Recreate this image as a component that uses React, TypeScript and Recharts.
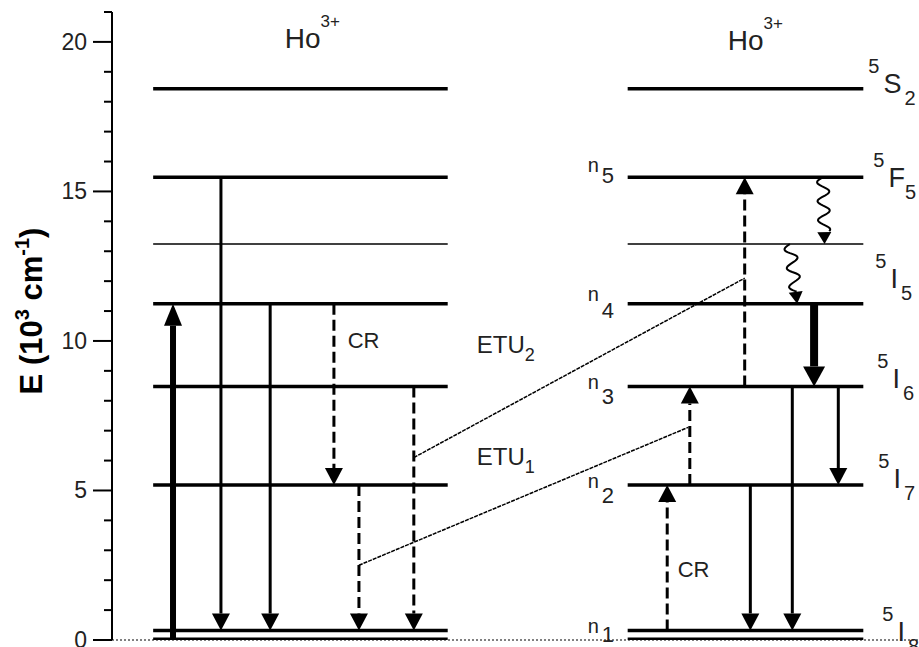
import React from 'react'
import { ComposedChart, Line, XAxis, YAxis, ReferenceLine, ReferenceDot } from 'recharts'

// energy levels of Ho3+ (10^3 cm^-1), ground first
const levelTerms = ['5I8', '5I7', '5I6', '5I5', '', '5F5', '5S2']
const levelE = [0.32, 5.18, 8.48, 11.24, 13.24, 15.47, 18.43]
const levelN = ['1', '2', '3', '4', '', '5', '']
const groundBaseE = 0.04

// the two ion columns (schematic x units 0..100)
const columnStart = [5.1, 63.9]
const columnEnd = [41.6, 93.1]
const columnTitleX = [21.4, 76.3]

const yTicks = [0, 1, 2, 3, 4, 5, 6, 7, 8, 9, 10, 11, 12, 13, 14, 15, 16, 17, 18, 19, 20, 21]

// transitions: x position, from level index, to level index
const solidX = [13.5, 19.6, 79.1, 84.3, 90.0]
const solidFrom = [5, 3, 1, 2, 2]
const solidTo = [0, 0, 0, 0, 1]

const dashX = [27.5, 30.6, 37.4, 68.8, 71.6, 78.4]
const dashFrom = [3, 1, 2, 0, 1, 2]
const dashTo = [1, 0, 0, 1, 2, 5]

const strongX = [7.56, 87.0]
const strongFromE = [0, 11.24]
const strongTo = [3, 2]

const wavyX = [88.1, 84.0]
const wavyXEnd = [88.3, 84.9]
const wavyFrom = [5, 4]
const wavyTo = [4, 3]

// energy transfer upconversion links
const etuNames = ['1', '2']
const etuX1 = [30.6, 37.4]
const etuE1 = [2.5, 6.1]
const etuX2 = [71.4, 78.4]
const etuE2 = [7.11, 12.1]
const etuLabelX = [45.2, 45.2]
const etuLabelE = [5.85, 9.6]

const crLabelX = [29.2, 70.1]
const crLabelE = [9.77, 2.1]

const FONT = '"Liberation Sans", Arial, sans-serif'
const INK = '#222'

// label nudges in px
const termNudge = [[19, 11], [15, 3], [14, 2], [12, -16], [0, 0], [10, 10], [5, 4]]
const nNudge = [[3, 9], [3, 15], [3, 15], [-3, 17], [0, 0], [-5, 11], [0, 0]]

function arrowShape(width: number, head: [number, number], dash?: string, wavy?: boolean) {
  return (p: any) => {
    const { x1, y1, x2, y2 } = p
    const dx = x2 - x1
    const dy = y2 - y1
    const len = Math.hypot(dx, dy) || 1
    const ux = dx / len
    const uy = dy / len
    const nx = -uy
    const ny = ux
    const [hw, hl] = head
    const bx = x2 - ux * hl
    const by = y2 - uy * hl
    let shaft
    if (wavy) {
      const L = len - hl
      const pts: string[] = []
      for (let s = 0; s <= L; s += 1) {
        const off = 6 * Math.sin((2 * Math.PI * s) / 19)
        pts.push(`${x1 + ux * s + nx * off},${y1 + uy * s + ny * off}`)
      }
      shaft = <polyline points={pts.join(' ')} fill="none" stroke="#000" strokeWidth={width} />
    } else {
      shaft = <line x1={x1} y1={y1} x2={bx} y2={by} stroke="#000" strokeWidth={width} strokeDasharray={dash} />
    }
    return (
      <g>
        {shaft}
        <polygon
          points={`${x2},${y2} ${bx + (nx * hw) / 2},${by + (ny * hw) / 2} ${bx - (nx * hw) / 2},${by - (ny * hw) / 2}`}
          fill="#000"
        />
      </g>
    )
  }
}

const YTick = (p: any) => {
  const { x, y, payload } = p
  const major = payload.value % 5 === 0
  return (
    <g>
      <line x1={x - (major ? 19 : 8)} x2={x} y1={y} y2={y} stroke="#000" strokeWidth={2} />
      {major && (
        <text x={x - 25} y={y + 8} textAnchor="end" fontSize={23} fontFamily={FONT} fill={INK}>
          {payload.value}
        </text>
      )}
    </g>
  )
}

const YLabel = () => (
  <text transform="translate(42,311) rotate(-90)" textAnchor="middle" fontSize={31} fontWeight="bold" fontFamily={FONT} fill="#000">
    E (10<tspan fontSize={20} dy={-13}>3</tspan>
    <tspan dy={13}> cm</tspan>
    <tspan fontSize={20} dy={-13}>-1</tspan>
    <tspan dy={13}>)</tspan>
  </text>
)

const flat = (key: string, x1: number, x2: number, e: number, w: number) => (
  <Line
    key={key}
    data={[{ x: x1, e }, { x: x2, e }]}
    dataKey="e"
    stroke="#000"
    strokeWidth={w}
    dot={false}
    activeDot={false}
    isAnimationActive={false}
  />
)

export default function App() {
  const levels: React.ReactNode[] = []
  columnStart.forEach((xs, c) => {
    levelE.forEach((e, i) => {
      levels.push(flat(`lv${c}-${i}`, xs, columnEnd[c], e, i === 4 ? 1.5 : 3.5))
    })
    levels.push(flat(`gnd${c}`, xs, columnEnd[c], groundBaseE, 2.4))
  })

  return (
    <div style={{ position: 'absolute', left: 0, top: 0, background: '#fff' }}>
      <ComposedChart width={919} height={647} margin={{ top: 12, right: 0, bottom: 7, left: 0 }}>
        <XAxis type="number" dataKey="x" domain={[0, 100]} hide />
        <YAxis
          type="number"
          domain={[0, 21]}
          ticks={yTicks}
          interval={0}
          width={112}
          tickSize={0}
          tickMargin={0}
          tickLine={false}
          axisLine={{ stroke: '#000', strokeWidth: 2 }}
          tick={YTick}
          label={{ content: YLabel }}
        />

        <ReferenceLine segment={[{ x: 0, y: 0 }, { x: 100, y: 0 }]} stroke="#000" strokeWidth={1} strokeDasharray="2 2" />
        {levels}

        {solidX.map((x, i) => (
          <ReferenceLine
            key={`s${i}`}
            segment={[{ x, y: levelE[solidFrom[i]] }, { x, y: levelE[solidTo[i]] }]}
            shape={arrowShape(3, [18, 17])}
          />
        ))}
        {dashX.map((x, i) => (
          <ReferenceLine
            key={`d${i}`}
            segment={[{ x, y: levelE[dashFrom[i]] }, { x, y: levelE[dashTo[i]] }]}
            shape={arrowShape(3, [18, 17], '11 5')}
          />
        ))}
        {strongX.map((x, i) => (
          <ReferenceLine
            key={`t${i}`}
            segment={[{ x, y: strongFromE[i] }, { x, y: levelE[strongTo[i]] }]}
            shape={arrowShape(i === 0 ? 6 : 8, i === 0 ? [18, 22] : [22, 20])}
          />
        ))}
        {wavyX.map((x, i) => (
          <ReferenceLine
            key={`w${i}`}
            segment={[{ x, y: levelE[wavyFrom[i]] }, { x: wavyXEnd[i], y: levelE[wavyTo[i]] }]}
            shape={arrowShape(2, [14, 12], undefined, true)}
          />
        ))}
        {etuX1.map((x, i) => (
          <ReferenceLine
            key={`e${i}`}
            segment={[{ x, y: etuE1[i] }, { x: etuX2[i], y: etuE2[i] }]}
            stroke="#000"
            strokeWidth={1.5}
            strokeDasharray="4 1"
          />
        ))}

        {etuNames.map((n, i) => (
          <ReferenceDot
            key={`el${i}`}
            x={etuLabelX[i]}
            y={etuLabelE[i]}
            shape={(p: any) => (
              <text x={p.cx} y={p.cy} fontSize={24} fontFamily={FONT} fill={INK}>
                ETU<tspan fontSize={18} dy={8}>{n}</tspan>
              </text>
            )}
          />
        ))}
        {crLabelX.map((x, i) => (
          <ReferenceDot
            key={`cr${i}`}
            x={x}
            y={crLabelE[i]}
            shape={(p: any) => (
              <text x={p.cx} y={p.cy} fontSize={22} fontFamily={FONT} fill={INK}>CR</text>
            )}
          />
        ))}
        {columnTitleX.map((x, i) => (
          <ReferenceDot
            key={`ti${i}`}
            x={x}
            y={19.8}
            shape={(p: any) => (
              <text x={p.cx} y={p.cy + i * 2} fontSize={28} fontFamily={FONT} fill={INK}>
                Ho<tspan fontSize={17} dy={-21}>3+</tspan>
              </text>
            )}
          />
        ))}
        {levelTerms.map((t, i) =>
          t ? (
            <ReferenceDot
              key={`tm${i}`}
              x={columnEnd[1]}
              y={levelE[i]}
              shape={(p: any) => (
                <text x={p.cx + termNudge[i][0]} y={p.cy + termNudge[i][1]} fontSize={27} fontFamily={FONT} fill={INK}>
                  <tspan fontSize={20} dy={-20}>{t[0]}</tspan>
                  <tspan dx={4} dy={20}>{t[1]}</tspan>
                  <tspan fontSize={20} dx={t[1] === 'F' ? 0 : 3} dy={12}>{t.slice(2)}</tspan>
                </text>
              )}
            />
          ) : null
        )}
        {levelN.map((n, i) =>
          n ? (
            <ReferenceDot
              key={`n${i}`}
              x={columnStart[1]}
              y={levelE[i]}
              shape={(p: any) => (
                <text x={p.cx - 40} y={p.cy + nNudge[i][0]} fontSize={20} fontFamily={FONT} fill={INK}>
                  n<tspan fontSize={22} dx={3} dy={nNudge[i][1]}>{n}</tspan>
                </text>
              )}
            />
          ) : null
        )}
      </ComposedChart>
    </div>
  )
}
